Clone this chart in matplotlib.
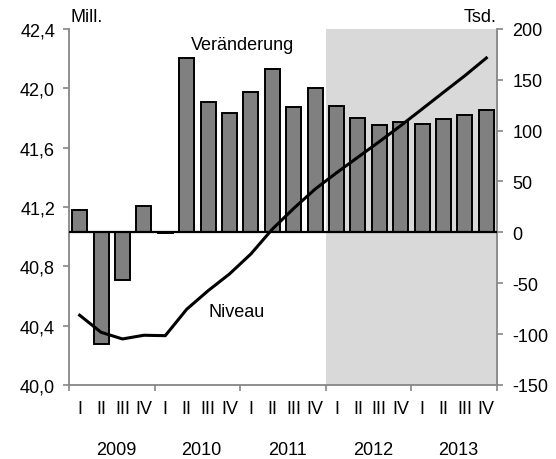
import numpy as np
import matplotlib
matplotlib.use("Agg")
import matplotlib.pyplot as plt

plt.rcParams["font.family"] = ["Liberation Sans", "DejaVu Sans"]
plt.rcParams["font.size"] = 13

# quarters 2009 I .. 2013 IV
quarters = ["I", "II", "III", "IV"] * 5
years = ["2009", "2010", "2011", "2012", "2013"]
# change vs previous year, thousand (right axis)
veraenderung = [22, -110, -47, 26, -1, 171, 128, 117, 138, 161, 123, 142,
                124, 112, 106, 108, 107, 111, 115, 120]
# level, million (left axis)
niveau = [40.47, 40.355, 40.31, 40.335, 40.332, 40.51, 40.635, 40.748, 40.883, 41.05,
          41.19, 41.32, 41.43, 41.535, 41.64, 41.748, 41.86, 41.973, 42.085, 42.204]
left_ticks = [40.0, 40.4, 40.8, 41.2, 41.6, 42.0, 42.4]
right_ticks = [-150, -100, -50, 0, 50, 100, 150, 200]

gray = "#868686"
x = np.arange(len(quarters))

fig, ax = plt.subplots(figsize=(5.56, 4.60), dpi=100)
fig.subplots_adjust(left=0.124, right=0.894, top=0.935, bottom=0.161)

# line on left scale lives on a twin drawn on top of the bars
ax2 = ax.twinx()

# bars on right scale
ax.axvspan(11.5, 19.5, color="#d9d9d9", lw=0, zorder=0)
ax.bar(x, veraenderung, width=0.7, color="#808080", edgecolor="black", lw=1.4, zorder=2)
ax.axhline(0, color="black", lw=1.6, zorder=3)
ax.set_ylim(-150, 200)
ax.set_xlim(-0.5, 19.5)
ax.yaxis.tick_right()
ax.set_yticks(right_ticks)
ax.set_yticklabels([str(v) for v in right_ticks])
ax.tick_params(axis="y", direction="out", length=4, color=gray, width=1.2, pad=7)

ax.set_xticks([-0.5, 3.5, 7.5, 11.5, 15.5, 19.5])
ax.set_xticklabels([])
ax.tick_params(axis="x", which="major", direction="out", length=4.5, color=gray, width=1.2)
ax.set_xticks(x, minor=True)
ax.set_xticklabels(quarters, minor=True)
ax.tick_params(axis="x", which="minor", length=0, pad=11)

for i, yr in enumerate(years):
    ax.text(4 * i + 1.7, -0.18, yr, transform=ax.get_xaxis_transform(),
            ha="center", va="center")

ax.spines["top"].set_visible(False)
for s in ["left", "right", "bottom"]:
    ax.spines[s].set_color(gray)
    ax.spines[s].set_linewidth(1.3)

ax2.plot(x, niveau, color="black", lw=2.2, zorder=4)
ax2.set_ylim(40.0, 42.4)
ax2.yaxis.tick_left()
ax2.set_yticks(left_ticks)
ax2.set_yticklabels([f"{v:.1f}".replace(".", ",") for v in left_ticks])
ax2.tick_params(axis="y", direction="out", length=4, color=gray, width=1.2, pad=6)
for s in ["top", "right", "bottom", "left"]:
    ax2.spines[s].set_visible(False)

fig.text(70 / 556, 1 - 17 / 460, "Mill.", ha="left", va="center")
fig.text(496 / 556, 1 - 17 / 460, "Tsd.", ha="right", va="center")
fig.text(243 / 556, 1 - 45 / 460, "Veränderung", ha="center", va="center")
fig.text(237 / 556, 1 - 313 / 460, "Niveau", ha="center", va="center")

fig.savefig("out.png", dpi=100)
